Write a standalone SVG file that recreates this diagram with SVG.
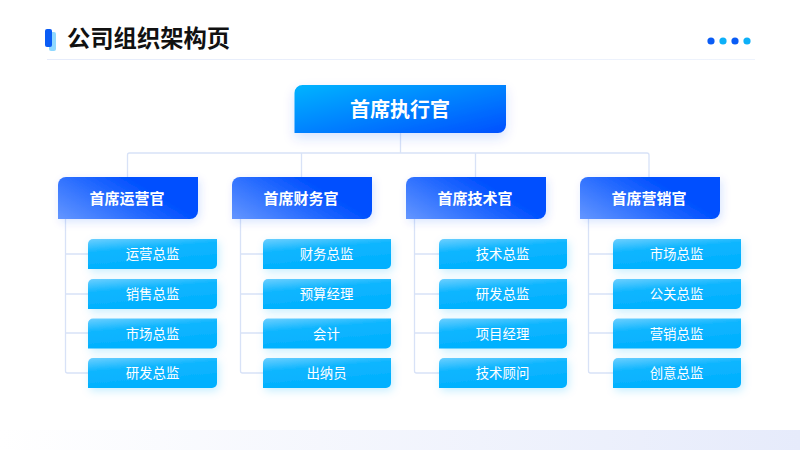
<svg xmlns="http://www.w3.org/2000/svg" width="800" height="450" viewBox="0 0 800 450">
<defs>
<linearGradient id="gc" x1="0" y1="0" x2="1" y2="1"><stop offset="0" stop-color="#00b4ff"/><stop offset="1" stop-color="#0050ff"/></linearGradient>
<linearGradient id="gm" x1="0" y1="1" x2="1" y2="0.500"><stop offset="0" stop-color="#6496ff"/><stop offset="0.800" stop-color="#0050ff"/><stop offset="1" stop-color="#0050ff"/></linearGradient>
<linearGradient id="gs" x1="0" y1="0" x2="0.350" y2="1"><stop offset="0" stop-color="#6ccfff"/><stop offset="0.400" stop-color="#10b6ff"/><stop offset="1" stop-color="#00b0ff"/></linearGradient>
<linearGradient id="gb" x1="0" y1="0" x2="1" y2="0"><stop offset="0" stop-color="#ffffff"/><stop offset="1" stop-color="#e6ebfb"/></linearGradient>
<linearGradient id="gl" x1="0" y1="0" x2="1" y2="0"><stop offset="0" stop-color="#e6ecfb"/><stop offset="1" stop-color="#eef3fc"/></linearGradient>
<filter id="sc" x="-20%" y="-30%" width="140%" height="170%"><feDropShadow dx="0" dy="5" stdDeviation="6" flood-color="#0050ff" flood-opacity="0.16"/></filter>
<filter id="sm" x="-20%" y="-30%" width="140%" height="170%"><feDropShadow dx="2" dy="3" stdDeviation="4" flood-color="#0050ff" flood-opacity="0.15"/></filter>
<filter id="ss" x="-20%" y="-40%" width="140%" height="190%"><feDropShadow dx="2" dy="3" stdDeviation="4" flood-color="#00b4ff" flood-opacity="0.22"/></filter>
</defs>
<style>
text{font-family:"Noto Sans CJK SC","Noto Sans",sans-serif;text-anchor:middle;fill:#fff}
.t{font-size:23.300px;font-weight:700;fill:#111;text-anchor:start}
.c{font-size:20px;font-weight:700}
.m{font-size:15px;font-weight:700}
.s{font-size:13.400px;font-weight:400}
.l{fill:none;stroke:#d8e2f7;stroke-width:1.300}
.bc{fill:url(#gc);filter:url(#sc)}
.bm{fill:url(#gm);filter:url(#sm)}
.bs{fill:url(#gs);filter:url(#ss)}
</style>
<rect width="800" height="450" fill="#fff"/>
<rect x="0" y="430" width="800" height="20" fill="url(#gb)"/>
<g id="header">
<rect x="49" y="32" width="7" height="19" rx="2" fill="#8fd8ff"/>
<rect x="45" y="29" width="7" height="18" rx="2" fill="#0a5cf5"/>
<text class="t" x="67" y="47">公司组织架构页</text>
<rect x="47" y="59" width="708" height="1" fill="url(#gl)"/>
<circle cx="711" cy="41" r="3.600" fill="#0a5cf5"/>
<circle cx="723" cy="41" r="3.600" fill="#0db0f8"/>
<circle cx="735" cy="41" r="3.600" fill="#0a5cf5"/>
<circle cx="747" cy="41" r="3.600" fill="#0db0f8"/>
</g>
<g id="connectors">
<path class="l" d="M400.500 133V153M127.500 177V155a2 2 0 0 1 2-2H647a2 2 0 0 1 2 2V177M301.500 153V177M475.500 153V177"/>
<path class="l" d="M65.500 219V371a2 2 0 0 0 2 2H88M65.500 254H88M65.500 294H88M65.500 333H88"/>
<path class="l" d="M240.500 219V371a2 2 0 0 0 2 2H263M240.500 254H263M240.500 294H263M240.500 333H263"/>
<path class="l" d="M414.500 219V371a2 2 0 0 0 2 2H439M414.500 254H439M414.500 294H439M414.500 333H439"/>
<path class="l" d="M588.500 219V371a2 2 0 0 0 2 2H613M588.500 254H613M588.500 294H613M588.500 333H613"/>
</g>
<g id="ceo"><path class="bc" d="M302 85H506V125a8 8 0 0 1-8 8H294.500V93a8 8 0 0 1 8-8Z"/><text class="c" x="400" y="117">首席执行官</text></g>
<g id="m1"><path class="bm" d="M66 177H198V211a8 8 0 0 1-8 8H58V185a8 8 0 0 1 8-8Z"/><text class="m" x="127" y="204">首席运营官</text></g>
<g id="m2"><path class="bm" d="M240 177H372V211a8 8 0 0 1-8 8H232V185a8 8 0 0 1 8-8Z"/><text class="m" x="301" y="204">首席财务官</text></g>
<g id="m3"><path class="bm" d="M414 177H546V211a8 8 0 0 1-8 8H406V185a8 8 0 0 1 8-8Z"/><text class="m" x="475" y="204">首席技术官</text></g>
<g id="m4"><path class="bm" d="M588 177H720V211a8 8 0 0 1-8 8H580V185a8 8 0 0 1 8-8Z"/><text class="m" x="649" y="204">首席营销官</text></g>
<g id="s11"><path class="bs" d="M93 239H217V264a5 5 0 0 1-5 5H88V244a5 5 0 0 1 5-5Z"/><text class="s" x="152.500" y="259">运营总监</text></g>
<g id="s12"><path class="bs" d="M93 279H217V304a5 5 0 0 1-5 5H88V284a5 5 0 0 1 5-5Z"/><text class="s" x="152.500" y="299">销售总监</text></g>
<g id="s13"><path class="bs" d="M93 318.500H217V343.500a5 5 0 0 1-5 5H88V323.500a5 5 0 0 1 5-5Z"/><text class="s" x="152.500" y="338.500">市场总监</text></g>
<g id="s14"><path class="bs" d="M93 358H217V383a5 5 0 0 1-5 5H88V363a5 5 0 0 1 5-5Z"/><text class="s" x="152.500" y="378">研发总监</text></g>
<g id="s21"><path class="bs" d="M268 239H391V264a5 5 0 0 1-5 5H263V244a5 5 0 0 1 5-5Z"/><text class="s" x="326.500" y="259">财务总监</text></g>
<g id="s22"><path class="bs" d="M268 279H391V304a5 5 0 0 1-5 5H263V284a5 5 0 0 1 5-5Z"/><text class="s" x="326.500" y="299">预算经理</text></g>
<g id="s23"><path class="bs" d="M268 318.500H391V343.500a5 5 0 0 1-5 5H263V323.500a5 5 0 0 1 5-5Z"/><text class="s" x="326.500" y="338.500">会计</text></g>
<g id="s24"><path class="bs" d="M268 358H391V383a5 5 0 0 1-5 5H263V363a5 5 0 0 1 5-5Z"/><text class="s" x="326.500" y="378">出纳员</text></g>
<g id="s31"><path class="bs" d="M444 239H567V264a5 5 0 0 1-5 5H439V244a5 5 0 0 1 5-5Z"/><text class="s" x="502.500" y="259">技术总监</text></g>
<g id="s32"><path class="bs" d="M444 279H567V304a5 5 0 0 1-5 5H439V284a5 5 0 0 1 5-5Z"/><text class="s" x="502.500" y="299">研发总监</text></g>
<g id="s33"><path class="bs" d="M444 318.500H567V343.500a5 5 0 0 1-5 5H439V323.500a5 5 0 0 1 5-5Z"/><text class="s" x="502.500" y="338.500">项目经理</text></g>
<g id="s34"><path class="bs" d="M444 358H567V383a5 5 0 0 1-5 5H439V363a5 5 0 0 1 5-5Z"/><text class="s" x="502.500" y="378">技术顾问</text></g>
<g id="s41"><path class="bs" d="M618 239H741V264a5 5 0 0 1-5 5H613V244a5 5 0 0 1 5-5Z"/><text class="s" x="676.500" y="259">市场总监</text></g>
<g id="s42"><path class="bs" d="M618 279H741V304a5 5 0 0 1-5 5H613V284a5 5 0 0 1 5-5Z"/><text class="s" x="676.500" y="299">公关总监</text></g>
<g id="s43"><path class="bs" d="M618 318.500H741V343.500a5 5 0 0 1-5 5H613V323.500a5 5 0 0 1 5-5Z"/><text class="s" x="676.500" y="338.500">营销总监</text></g>
<g id="s44"><path class="bs" d="M618 358H741V383a5 5 0 0 1-5 5H613V363a5 5 0 0 1 5-5Z"/><text class="s" x="676.500" y="378">创意总监</text></g>
</svg>
